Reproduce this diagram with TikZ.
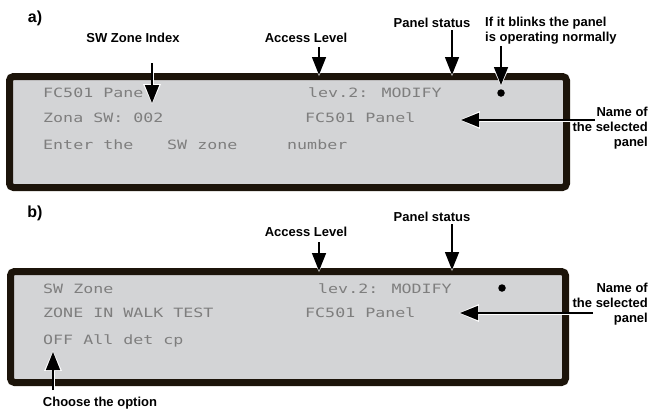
\documentclass[tikz,border=0pt]{standalone}
\usepackage{fontspec}
\setmainfont{Liberation Sans}
\newfontfamily\lcdfont[FakeStretch=1.3]{DejaVu Sans Mono}
\usetikzlibrary{arrows.meta,positioning,calc}
\definecolor{lcdframe}{HTML}{1C140A}
\definecolor{lcdscreen}{HTML}{D3D4D6}
\definecolor{lcdtext}{HTML}{7E7E7E}
\tikzset{
  screen/.style={draw=lcdframe, line width=7pt, fill=lcdscreen, rounded corners=4pt, minimum width=557pt, minimum height=111pt, inner sep=0pt},
  lcd/.style={anchor=base west, inner sep=0pt, text=lcdtext, font=\lcdfont\fontsize{12.8}{14}\selectfont},
  callout/.style={inner sep=0pt, font=\bfseries\fontsize{13}{14.8}\selectfont, align=center},
  tag/.style={inner sep=0pt, font=\bfseries\fontsize{16}{18}\selectfont},
  pointer/.style={line width=1.5pt, draw=black, -{Triangle[length=18pt,width=14pt]},
    preaction={draw=white, line width=3pt, -{Triangle[length=20pt,width=17pt]}, shorten >=-1.2pt}},
  led/.style={circle, fill=black, inner sep=0pt, minimum size=7.5pt}
}

\begin{document}
\begin{tikzpicture}[x=1pt, y=-1pt]
  \useasboundingbox (0,0) rectangle (650,410);

  % display a)
  \node[tag] (taga) at (35,18) {a)};
  \node[screen] (scra) at (288,132) {};
  \node[lcd] (a1l) at (43,97.5) {FC501 Pane};
  \node[lcd] (a1r) at (308,97.5) {lev.2:  MODIFY};
  \node[lcd] (a2l) at (43,122.5) {Zona SW: 002};
  \node[lcd] (a2r) at (305,122.5) {FC501 Panel};
  \node[lcd] (a3l) at (43,149.5) {Enter the};
  \node[lcd] (a3m) at (167,149.5) {SW zone};
  \node[lcd] (a3r) at (287,149.5) {number};
  \node[led] (leda) at (501,93) {};

  \node[callout] (idxa) at (133,38) {SW Zone Index};
  \node[callout] (acca) at (306,38) {Access Level};
  \node[callout] (stata) at (432,23) {Panel status};
  \node[callout, align=left, anchor=west] (blinka) at (485,30.5) {If it blinks the panel\\is operating normally};
  \node[callout, align=right, anchor=east] (namea) at (648,128) {Name of\\the selected\\panel};

  \coordinate (idxa0) at (152,63);   \coordinate (idxa1) at (152,103);
  \coordinate (acca0) at (319,47);   \coordinate (acca1) at (319,75);
  \coordinate (stata0) at (452,30);  \coordinate (stata1) at (452,75);
  \coordinate (blinka0) at (501,46); \coordinate (blinka1) at (501,85);
  \coordinate (namea0) at (595,120); \coordinate (namea1) at (461,120);

  \draw[pointer] (idxa0) -- (idxa1);
  \draw[pointer] (acca0) -- (acca1);
  \draw[pointer] (stata0) -- (stata1);
  \draw[pointer] (blinka0) -- (blinka1);
  \draw[pointer] (namea0) -- (namea1);

  % display b)
  \node[tag] (tagb) at (35,213) {b)};
  \node[screen, minimum width=555pt] (scrb) at (288,327) {};
  \node[lcd] (b1l) at (43,293) {SW Zone};
  \node[lcd] (b1r) at (318,293) {lev.2:  MODIFY};
  \node[lcd] (b2l) at (43,317.5) {ZONE IN WALK TEST};
  \node[lcd] (b2r) at (305,317.5) {FC501 Panel};
  \node[lcd] (b3l) at (43,344.5) {OFF All det cp};
  \node[led] (ledb) at (502,288) {};

  \node[callout] (accb) at (306,232) {Access Level};
  \node[callout] (statb) at (432,217) {Panel status};
  \node[callout, align=right, anchor=east] (nameb) at (648,304) {Name of\\the selected\\panel};
  \node[callout] (optb) at (100,403) {Choose the option};

  \coordinate (accb0) at (319,242);  \coordinate (accb1) at (319,271);
  \coordinate (statb0) at (452,224); \coordinate (statb1) at (452,270);
  \coordinate (nameb0) at (593,313); \coordinate (nameb1) at (460,313);
  \coordinate (optb0) at (53,390);   \coordinate (optb1) at (53,352);

  \draw[pointer] (accb0) -- (accb1);
  \draw[pointer] (statb0) -- (statb1);
  \draw[pointer] (nameb0) -- (nameb1);
  \draw[pointer] (optb0) -- (optb1);
\end{tikzpicture}
\end{document}
